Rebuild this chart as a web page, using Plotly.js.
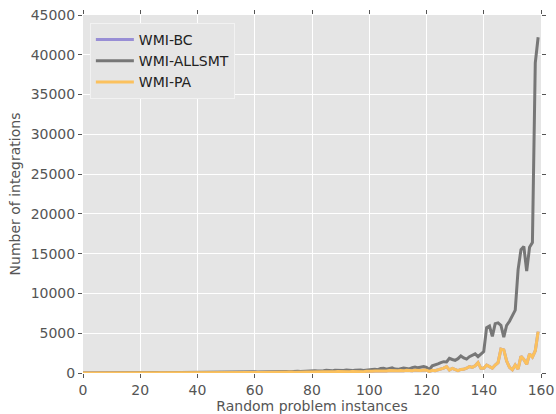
<!DOCTYPE html>
<html>
<head>
<meta charset="utf-8">
<script src="https://cdn.plot.ly/plotly-3.0.1.min.js"></script>
<style>html,body{margin:0;padding:0;background:#fff;}#chart{width:556px;height:414px;}</style>
</head>
<body>
<div id="chart"></div>
<script>
const instances = [0,1,2,3,4,5,6,7,8,9,10,11,12,13,14,15,16,17,18,19,20,21,22,23,24,25,26,27,28,29,30,31,32,33,34,35,36,37,38,39,40,41,42,43,44,45,46,47,48,49,50,51,52,53,54,55,56,57,58,59,60,61,62,63,64,65,66,67,68,69,70,71,72,73,74,75,76,77,78,79,80,81,82,83,84,85,86,87,88,89,90,91,92,93,94,95,96,97,98,99,100,101,102,103,104,105,106,107,108,109,110,111,112,113,114,115,116,117,118,119,120,121,122,123,124,125,126,127,128,129,130,131,132,133,134,135,136,137,138,139,140,141,142,143,144,145,146,147,148,149,150,151,152,153,154,155,156,157,158,159];

const allsmtValues = [
10,15,12,20,18,25,15,22,30,20,
25,30,28,35,22,30,40,35,30,45,
40,35,50,45,38,55,48,42,60,52,
50,65,58,70,55,62,75,68,80,72,
70,85,78,90,75,95,88,100,92,110,
105,98,120,110,130,115,125,140,120,135,
150,130,145,160,140,170,155,150,180,165,
175,190,170,200,185,210,195,220,240,210,
260,290,250,310,280,330,300,270,340,310,
350,320,380,340,300,360,410,370,330,390,
380,430,470,420,560,600,480,520,650,500,
460,540,620,580,520,680,740,650,780,820,
700,420,900,980,1150,1300,1420,1380,1850,1700,
1600,1800,2150,1900,1750,2050,2250,2400,2050,2350,
2700,5700,5900,4600,6200,6300,6000,4500,6000,6500,
7200,7900,13000,15500,15900,12800,15800,16400,39000,42200];

const paValues = [
5,8,6,10,7,9,12,8,10,11,
12,10,15,13,11,16,14,12,18,15,
16,20,18,14,22,19,17,24,21,20,
25,22,28,24,30,26,32,28,35,30,
34,38,32,40,36,45,42,38,48,44,
50,46,55,52,48,60,56,62,58,65,
70,64,75,68,80,72,85,78,90,82,
95,88,100,110,95,120,105,115,130,120,
140,125,150,135,160,145,130,170,150,180,
165,190,175,155,200,185,210,190,170,220,
200,230,260,240,210,280,250,300,270,240,
290,320,270,340,310,280,360,330,300,380,
350,200,330,280,400,460,620,800,380,590,
400,300,450,460,600,800,700,900,1300,590,
600,1000,800,600,1000,1300,3000,2900,1500,700,
400,1000,500,2100,1700,1100,2400,2000,2800,5200];

const bcValues = [
5,8,6,10,7,9,12,8,10,11,
12,10,15,13,11,16,14,12,18,15,
16,20,18,14,22,19,17,24,21,20,
25,22,28,24,30,26,32,28,35,30,
34,38,32,40,36,45,42,38,48,44,
50,46,55,52,48,60,56,62,58,65,
70,64,75,68,80,72,85,78,90,82,
95,88,100,110,95,120,105,115,130,120,
140,125,150,135,160,145,130,170,150,180,
165,190,175,155,200,185,210,190,170,220,
200,230,260,240,210,280,250,300,270,240,
290,320,270,340,310,280,360,330,300,380,
350,200,330,280,400,460,620,800,380,590,
400,300,450,460,600,800,700,900,1300,590,
600,1000,800,600,1000,1300,3000,2900,1500,700,
400,1000,500,2100,1700,1100,2400,2000,2800,5200];

const seriesNames = ['WMI-BC', 'WMI-ALLSMT', 'WMI-PA'];
const xTicks = [0,20,40,60,80,100,120,140,160];
const yTicks = [0,5000,10000,15000,20000,25000,30000,35000,40000,45000];

const font = {family: 'DejaVu Sans, sans-serif', size: 14, color: '#555555'};

const traces = [
  {x: instances, y: bcValues, name: seriesNames[0], mode: 'lines', line: {color: '#988ED5', width: 3}},
  {x: instances, y: allsmtValues, name: seriesNames[1], mode: 'lines', line: {color: '#777777', width: 3}},
  {x: instances, y: paValues, name: seriesNames[2], mode: 'lines', line: {color: '#FBC15E', width: 3}}
];

const axisCommon = {
  showgrid: true, gridcolor: '#FFFFFF', gridwidth: 1,
  zeroline: false, showline: false,
  ticks: 'outside', ticklen: 4, tickwidth: 1, tickcolor: '#555555',
  mirror: 'ticks', tickfont: font, tickformat: 'd'
};

const layout = {
  width: 556, height: 414,
  margin: {l: 83, r: 15, t: 15, b: 41},
  paper_bgcolor: '#FFFFFF', plot_bgcolor: '#E5E5E5',
  font: font,
  showlegend: true,
  legend: {
    x: 0.015, y: 0.978, xanchor: 'left', yanchor: 'top',
    bgcolor: '#E5E5E5', bordercolor: '#F2F2F2', borderwidth: 1,
    font: {family: 'DejaVu Sans, sans-serif', size: 14, color: '#222222'},
    itemwidth: 38
  },
  xaxis: Object.assign({}, axisCommon, {
    range: [0, 160], tickvals: xTicks,
    title: {text: 'Random problem instances', font: font, standoff: 4}
  }),
  yaxis: Object.assign({}, axisCommon, {
    range: [0, 45000], tickvals: yTicks,
    title: {text: 'Number of integrations', font: font, standoff: 6}
  })
};

Plotly.newPlot('chart', traces, layout, {staticPlot: true, displayModeBar: false});
</script>
</body>
</html>
